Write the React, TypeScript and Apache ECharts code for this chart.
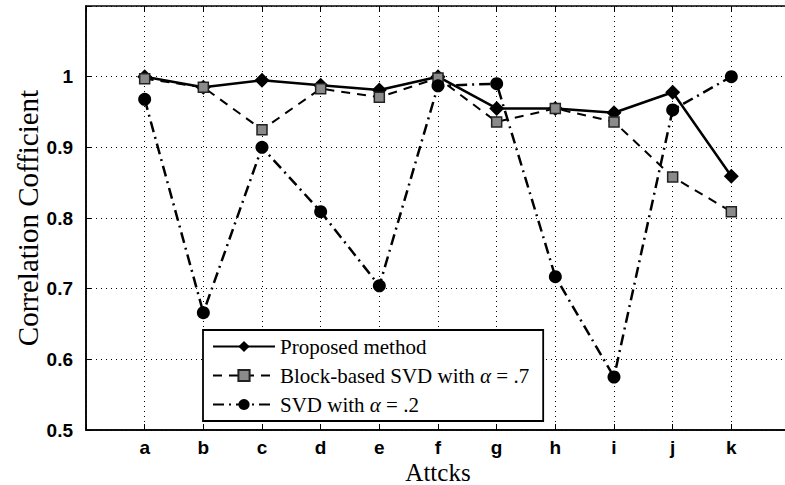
import React, { useEffect, useRef } from "react";
import * as echarts from "echarts";

// Attack labels along the x axis (positions 1..11)
const categories = ["a", "b", "c", "d", "e", "f", "g", "h", "i", "j", "k"];

// Correlation coefficient per attack
const proposed = [1.0, 0.985, 0.995, 0.988, 0.981, 1.0, 0.955, 0.955, 0.949, 0.978, 0.859];
const blockSvd = [0.997, 0.985, 0.925, 0.983, 0.971, 0.998, 0.936, 0.955, 0.936, 0.858, 0.809];
const svd = [0.968, 0.666, 0.9, 0.809, 0.704, 0.987, 0.99, 0.717, 0.575, 0.953, 1.0];

const seriesNames = [
  "Proposed method",
  "Block-based SVD with α = .7",
  "SVD with α = .2",
];

const serif = "'Liberation Serif', 'DejaVu Serif', serif";
const sans = "'Liberation Sans', Arial, sans-serif";

const toPoints = (vals: number[]) => vals.map((v, i) => [i + 1, v]);

export default function App() {
  const ref = useRef<HTMLDivElement>(null);

  useEffect(() => {
    document.body.style.margin = "0";
    if (!ref.current) return;
    const chart = echarts.init(ref.current, null, { renderer: "svg" });

    const dotted = { color: "#000", width: 1, type: [1, 4] as number[] };

    chart.setOption({
      animation: false,
      backgroundColor: "#fff",
      grid: {
        left: 86,
        top: 6,
        width: 704,
        height: 424,
        containLabel: false,
        outerBoundsMode: "none",
        show: true,
        borderColor: "#000",
        borderWidth: 1.5,
        backgroundColor: "transparent",
      },
      xAxis: [
        {
          type: "value",
          min: 0,
          max: 12,
          interval: 1,
          name: "Attcks",
          nameLocation: "middle",
          nameGap: 30,
          nameMoveOverlap: false,
          nameTextStyle: { fontFamily: serif, fontSize: 25, lineHeight: 24, color: "#000" },
          axisLine: { lineStyle: { color: "#000", width: 1.5 } },
          axisTick: { inside: true, length: 6, lineStyle: { color: "#000" } },
          axisLabel: {
            margin: 8,
            fontFamily: sans,
            fontSize: 19,
            fontWeight: "bold",
            color: "#000",
            formatter: (v: number) => categories[v - 1] ?? "",
          },
          splitLine: { show: true, lineStyle: dotted },
        },
        {
          type: "value",
          position: "top",
          min: 0,
          max: 12,
          interval: 1,
          axisLine: { show: false },
          axisTick: { inside: true, length: 6, lineStyle: { color: "#000" } },
          axisLabel: { show: false },
          splitLine: { show: false },
        },
      ],
      yAxis: {
        type: "value",
        min: 0.5,
        max: 1.1,
        interval: 0.1,
        name: "Correlation Cofficient",
        nameLocation: "middle",
        nameGap: 44,
        nameMoveOverlap: false,
        nameTextStyle: { fontFamily: serif, fontSize: 29, color: "#000" },
        axisLine: { show: true, lineStyle: { color: "#000", width: 1.5 } },
        axisTick: { show: true, inside: true, length: 6, lineStyle: { color: "#000" } },
        axisLabel: {
          margin: 13,
          fontFamily: sans,
          fontSize: 19,
          fontWeight: "bold",
          color: "#000",
          formatter: (v: number) => {
            const r = Math.round(v * 10) / 10;
            if (r > 1.05) return "";
            return r === 1 ? "1" : r.toFixed(1);
          },
        },
        splitLine: { show: true, lineStyle: dotted },
      },
      legend: {
        left: 203,
        top: 330,
        orient: "vertical",
        backgroundColor: "#fff",
        borderColor: "#000",
        borderWidth: 1.8,
        borderRadius: 0,
        padding: [6, 14, 6, 9],
        itemWidth: 62,
        itemHeight: 14,
        itemGap: 8,
        data: seriesNames,
        formatter: (name: string) => name.replace("α", "{it|α}"),
        textStyle: {
          fontFamily: serif,
          fontSize: 21,
          color: "#000",
          rich: {
            it: { fontFamily: serif, fontSize: 21, fontStyle: "italic", color: "#000" },
          },
        },
      },
      series: [
        {
          name: seriesNames[0],
          type: "line",
          data: toPoints(proposed),
          symbol: "diamond",
          symbolSize: 15,
          lineStyle: { color: "#000", width: 2.5, type: "solid" },
          itemStyle: { color: "#000" },
          z: 3,
        },
        {
          name: seriesNames[1],
          type: "line",
          data: toPoints(blockSvd),
          symbol: "rect",
          symbolSize: 10,
          lineStyle: { color: "#000", width: 2, type: [9, 7] },
          itemStyle: { color: "#8a8a8a", borderColor: "#222", borderWidth: 1.5 },
          z: 4,
        },
        {
          name: seriesNames[2],
          type: "line",
          data: toPoints(svd),
          symbol: "circle",
          symbolSize: 13,
          lineStyle: { color: "#000", width: 2.5, type: [11, 5, 2, 5] },
          itemStyle: { color: "#000" },
          z: 5,
        },
      ],
    });

    return () => chart.dispose();
  }, []);

  return <div ref={ref} style={{ width: 785, height: 485 }} />;
}
